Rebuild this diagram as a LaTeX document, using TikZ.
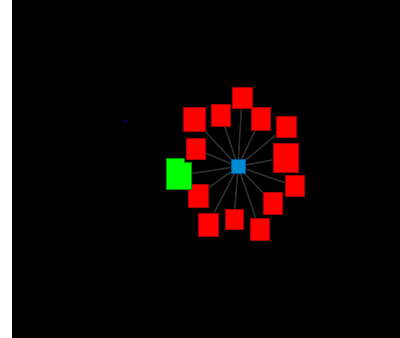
\documentclass[tikz,border=0pt]{standalone}
\definecolor{rfill}{RGB}{255,0,0}
\definecolor{rdraw}{RGB}{170,0,0}
\definecolor{gfill}{RGB}{0,255,0}
\definecolor{gdraw}{RGB}{0,150,0}
\definecolor{bfill}{RGB}{0,140,210}
\definecolor{bdraw}{RGB}{0,90,150}
\definecolor{edgec}{RGB}{45,45,45}
\definecolor{dotc}{RGB}{0,0,170}
\pgfdeclarelayer{back}
\pgfdeclarelayer{edges}
\pgfsetlayers{back,edges,main}
\begin{document}
\begin{tikzpicture}[x=1pt,y=-1pt,
  redbox/.style={draw=rdraw, line width=0.8pt, fill=rfill, inner sep=0pt},
  greenbox/.style={draw=gdraw, line width=0.8pt, fill=gfill, inner sep=0pt},
  bluebox/.style={draw=bdraw, line width=0.8pt, fill=bfill, inner sep=0pt, minimum width=14pt, minimum height=14pt},
  edge/.style={draw=edgec, line width=1.6pt}]
\useasboundingbox (0,0) rectangle (400,338);
\begin{pgfonlayer}{back}
\fill[black] (11,-2) rectangle (403,341);
\fill[white] (-2,-2) rectangle (12,341);
\end{pgfonlayer}
% nodes
\node[bluebox] (c) at (238,166.5) {};
\node[redbox, minimum width=20pt, minimum height=21pt] (n1) at (242,97.5) {};
\node[redbox, minimum width=22pt, minimum height=24pt] (n2) at (194,119.5) {};
\node[redbox, minimum width=19pt, minimum height=22pt] (n3) at (221,115) {};
\node[redbox, minimum width=19pt, minimum height=23pt] (n4) at (260.5,119) {};
\node[redbox, minimum width=20pt, minimum height=21pt] (n5) at (286,126.5) {};
\node[redbox, minimum width=25pt, minimum height=29pt] (n6) at (285.5,157.5) {};
\node[redbox, minimum width=19pt, minimum height=21pt] (n7) at (294.5,186) {};
\node[redbox, minimum width=19pt, minimum height=22pt] (n8) at (272.5,203) {};
\node[redbox, minimum width=19pt, minimum height=22pt] (n9) at (259.5,229) {};
\node[redbox, minimum width=18pt, minimum height=20pt] (n10) at (234,219) {};
\node[redbox, minimum width=20pt, minimum height=23pt] (n11) at (208,224.5) {};
\node[redbox, minimum width=20pt, minimum height=23pt] (n12) at (198,195.5) {};
\node[redbox, minimum width=19pt, minimum height=21pt] (n13) at (195.5,149) {};
\node[greenbox, minimum width=18pt, minimum height=31pt] (g1) at (175,173.5) {};
\node[greenbox, minimum width=25pt, minimum height=27pt] (g2) at (178.5,175.5) {};
\fill[gfill] (167,159) rectangle (183.5,188);
\node[circle, fill=dotc, inner sep=0pt, minimum size=2.6pt] (dot) at (125,121) {};
% edges
\begin{pgfonlayer}{edges}
\foreach \n in {n1,n2,n3,n4,n5,n6,n7,n8,n9,n10,n11,n12,n13,g2}{
  \path[edge] (c) -- (\n);
}
\end{pgfonlayer}
\end{tikzpicture}
\end{document}
